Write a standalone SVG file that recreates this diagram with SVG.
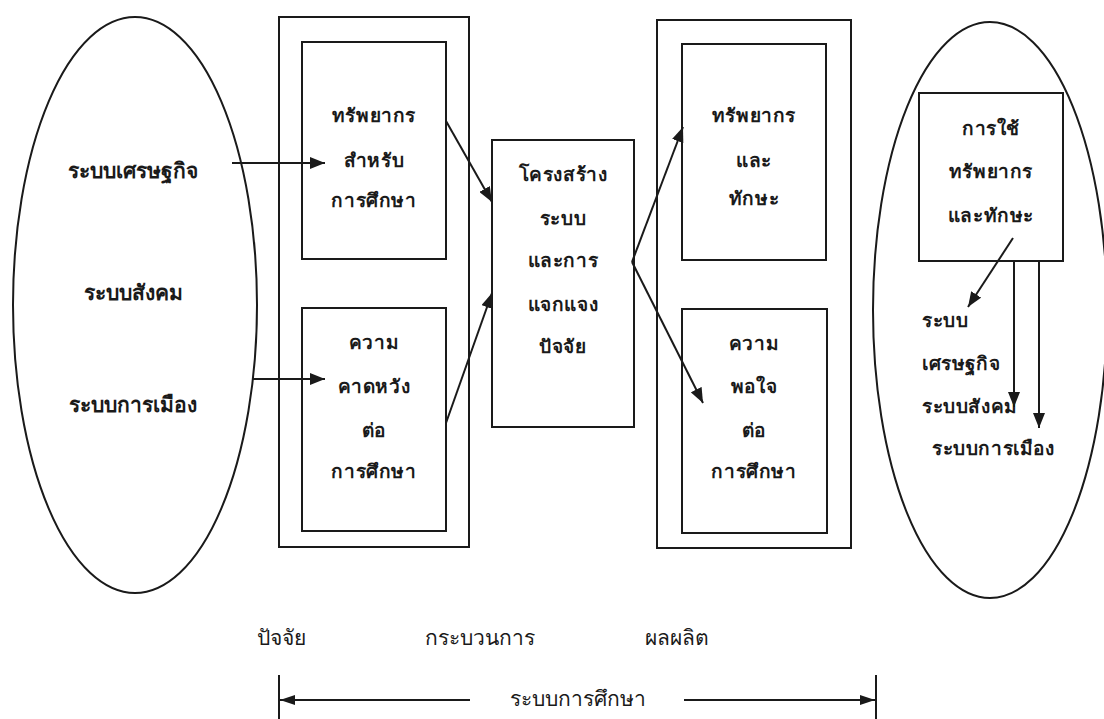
<svg xmlns="http://www.w3.org/2000/svg" width="1104" height="719" viewBox="0 0 1104 719">
<style>
.bg{fill:#fff}
.shape{fill:none;stroke:#1a1a1a;stroke-width:2}
.box{fill:#fff;stroke:#1a1a1a;stroke-width:2}
.lbl{font-family:"Noto Sans","DejaVu Sans",sans-serif;font-size:19px;font-weight:bold;fill:#1a1a1a;text-anchor:middle;letter-spacing:0.6px}
.lbll{font-family:"Noto Sans","DejaVu Sans",sans-serif;font-size:19px;font-weight:bold;fill:#1a1a1a;letter-spacing:0.6px}
.cap{font-family:"Noto Sans","DejaVu Sans",sans-serif;font-size:21px;fill:#1a1a1a;text-anchor:middle}
.conn{fill:none;stroke:#1a1a1a;stroke-width:2}
</style>
<defs>
<marker id="ah" viewBox="0 0 15 12" refX="15" refY="6" markerWidth="15" markerHeight="12" markerUnits="userSpaceOnUse" orient="auto">
<path d="M0,0 L15,6 L0,12 z" fill="#1a1a1a"/>
</marker>
<marker id="ahs" viewBox="0 0 15 10" refX="15" refY="5" markerWidth="15" markerHeight="10" markerUnits="userSpaceOnUse" orient="auto">
<path d="M0,0 L15,5 L0,10 z" fill="#1a1a1a"/>
</marker>
</defs>
<rect class="bg" x="0" y="0" width="1104" height="719"/>

<g id="left-ellipse">
<ellipse class="shape" cx="135" cy="305" rx="122" ry="288"/>
<text class="cap" x="133" y="178" font-weight="bold">ระบบเศรษฐกิจ</text>
<text class="cap" x="133" y="300" font-weight="bold">ระบบสังคม</text>
<text class="cap" x="133" y="412" font-weight="bold">ระบบการเมือง</text>
</g>

<g id="input-group">
<rect class="shape" x="279" y="17" width="190" height="530"/>
</g>
<g id="node-resources">
<rect class="box" x="302" y="42" width="144" height="217"/>
<text class="lbl" x="374" y="122">ทรัพยากร</text>
<text class="lbl" x="374" y="167">สำหรับ</text>
<text class="lbl" x="374" y="207">การศึกษา</text>
</g>
<g id="node-expectation">
<rect class="box" x="302" y="308" width="144" height="223"/>
<text class="lbl" x="374" y="349">ความ</text>
<text class="lbl" x="374" y="393">คาดหวัง</text>
<text class="lbl" x="374" y="437">ต่อ</text>
<text class="lbl" x="374" y="478">การศึกษา</text>
</g>

<g id="node-process">
<rect class="box" x="492" y="140" width="142" height="287"/>
<text class="lbl" x="563" y="181">โครงสร้าง</text>
<text class="lbl" x="563" y="225">ระบบ</text>
<text class="lbl" x="563" y="267">และการ</text>
<text class="lbl" x="563" y="311">แจกแจง</text>
<text class="lbl" x="563" y="353">ปัจจัย</text>
</g>

<g id="output-group">
<rect class="shape" x="657" y="20" width="194" height="528"/>
</g>
<g id="node-skills">
<rect class="box" x="682" y="44" width="144" height="216"/>
<text class="lbl" x="754" y="122">ทรัพยากร</text>
<text class="lbl" x="754" y="167">และ</text>
<text class="lbl" x="754" y="205">ทักษะ</text>
</g>
<g id="node-satisfaction">
<rect class="box" x="682" y="309" width="145" height="224"/>
<text class="lbl" x="754" y="350">ความ</text>
<text class="lbl" x="754" y="393">พอใจ</text>
<text class="lbl" x="754" y="437">ต่อ</text>
<text class="lbl" x="754" y="478">การศึกษา</text>
</g>

<g id="right-ellipse">
<ellipse class="shape" cx="990" cy="310" rx="117" ry="288"/>
</g>
<g id="node-use">
<rect class="box" x="919" y="93" width="144" height="168"/>
<text class="lbl" x="991" y="135">การใช้</text>
<text class="lbl" x="991" y="178">ทรัพยากร</text>
<text class="lbl" x="991" y="222">และทักษะ</text>
</g>
<g id="right-labels">
<text class="lbll" x="922" y="327">ระบบ</text>
<text class="lbll" x="922" y="370">เศรษฐกิจ</text>
<text class="lbll" x="922" y="413">ระบบสังคม</text>
<text class="lbll" x="932" y="455">ระบบการเมือง</text>
</g>

<g id="connectors">
<line class="conn" x1="232" y1="163" x2="325" y2="163" marker-end="url(#ah)"/>
<line class="conn" x1="252" y1="379" x2="325" y2="379" marker-end="url(#ah)"/>
<line class="conn" x1="446" y1="121" x2="492" y2="202" marker-end="url(#ah)"/>
<line class="conn" x1="446" y1="423" x2="492" y2="293" marker-end="url(#ah)"/>
<line class="conn" x1="632" y1="262" x2="683" y2="127" marker-end="url(#ah)"/>
<line class="conn" x1="632" y1="262" x2="703" y2="403" marker-end="url(#ah)"/>
<line class="conn" x1="1013" y1="238" x2="968" y2="307" marker-end="url(#ah)"/>
<line class="conn" x1="1014" y1="261" x2="1014" y2="407" marker-end="url(#ah)"/>
<line class="conn" x1="1039" y1="261" x2="1039" y2="428" marker-end="url(#ah)"/>
<line class="conn" x1="279" y1="675" x2="279" y2="719"/>
<line class="conn" x1="876" y1="675" x2="876" y2="719"/>
<line class="conn" x1="470" y1="700" x2="280" y2="700" marker-end="url(#ahs)"/>
<line class="conn" x1="684" y1="700" x2="875" y2="700" marker-end="url(#ahs)"/>
</g>

<g id="bottom-labels">
<text class="cap" x="281" y="645">ปัจจัย</text>
<text class="cap" x="480" y="645">กระบวนการ</text>
<text class="cap" x="677" y="645">ผลผลิต</text>
<text class="cap" x="578" y="706">ระบบการศึกษา</text>
</g>
</svg>
